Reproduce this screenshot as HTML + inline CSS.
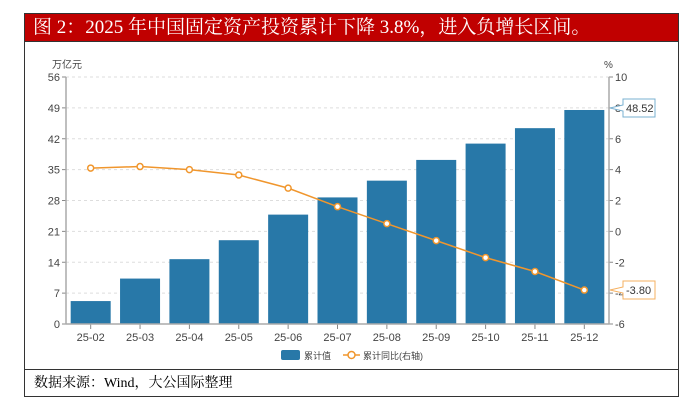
<!DOCTYPE html>
<html><head><meta charset="utf-8"><style>
body{margin:0;width:683px;height:414px;background:#fff;overflow:hidden;font-family:"Liberation Sans","Noto Sans CJK SC",sans-serif}
#frame{position:absolute;left:24px;top:13px;width:655px;height:384px;border:1px solid #333;box-sizing:border-box}
#title{position:absolute;left:0;top:0;width:100%;height:28px;background:#c00000;color:#fff;font-family:"Liberation Serif","Noto Serif CJK SC",serif;font-size:19px;line-height:28px;padding-left:8px;box-sizing:border-box;border-bottom:1px solid #333}
#src{position:absolute;left:0;top:355px;width:100%;height:28px;border-top:1px solid #333;font-family:"Liberation Serif","Noto Serif CJK SC",serif;font-size:14px;line-height:28px;padding-left:9px;box-sizing:border-box}
svg{position:absolute;left:0;top:0}
</style></head><body>
<div id="frame">
<div id="title">图 2：2025 年中国固定资产投资累计下降 3.8%，进入负增长区间。</div>
<div id="src">数据来源：Wind，大公国际整理</div>
</div>
<svg id="chart" width="683" height="414" font-family="Liberation Sans, Noto Sans CJK SC, sans-serif"></svg>
<script>
const categories=["25-02","25-03","25-04","25-05","25-06","25-07","25-08","25-09","25-10","25-11","25-12"];
const cumValues=[5.2,10.3,14.7,19.0,24.8,28.7,32.5,37.2,40.9,44.4,48.52];
const yoyValues=[4.1,4.2,4.0,3.65,2.8,1.6,0.5,-0.6,-1.7,-2.6,-3.8];
const leftTicks=[0,7,14,21,28,35,42,49,56];
const rightTicks=[-6,-4,-2,0,2,4,6,8,10];
const NS="http://www.w3.org/2000/svg";
const svg=document.getElementById('chart');
const X0=66,X1=609,Y0=324,Y1=77;
const band=(X1-X0)/categories.length;
const xC=i=>X0+band*(i+0.5);
const yL=v=>Y0-(v-0)/(56-0)*(Y0-Y1);
const yR=v=>Y0-(v+6)/16*(Y0-Y1);
function mk(t,a,p){const e=document.createElementNS(NS,t);for(const k in a)e.setAttribute(k,a[k]);(p||svg).appendChild(e);return e;}
leftTicks.forEach(v=>{
 const y=yL(v);
 if(v>0){const g=mk('line',{x1:X0,x2:X1,y1:y,y2:y,stroke:'#ddd','stroke-dasharray':'3,3'});
 
 }
 mk('line',{x1:X0-4,x2:X0,y1:y,y2:y,stroke:'#888'});
 const t=mk('text',{x:X0-6,y:y+4,'text-anchor':'end','font-size':11,fill:'#444'});t.textContent=v;
 
 
});
rightTicks.forEach(v=>{
 const y=yR(v);
 mk('line',{x1:X1,x2:X1+4,y1:y,y2:y,stroke:'#888'});
 const t=mk('text',{x:X1+6,y:y+4,'font-size':11,fill:'#444'});t.textContent=v;
 
 
});
let u=mk('text',{x:52,y:68,'font-size':10,fill:'#444'});u.textContent='万亿元';


u=mk('text',{x:604,y:68,'font-size':10,fill:'#444'});u.textContent='%';


cumValues.forEach((v,i)=>{
 const b=mk('rect',{x:xC(i)-20,y:yL(v),width:40,height:Y0-yL(v),fill:'#2878a8'});
 
 
 mk('line',{x1:xC(i),x2:xC(i),y1:Y0,y2:Y0+5,stroke:'#888'});
 const t=mk('text',{x:xC(i),y:Y0+17,'text-anchor':'middle','font-size':11,fill:'#444'});t.textContent=categories[i];
 
 
});
mk('line',{x1:X0,x2:X0,y1:Y1,y2:Y0,stroke:'#aaa','stroke-width':1.5});
mk('line',{x1:X1,x2:X1,y1:Y1,y2:Y0,stroke:'#aaa','stroke-width':1.5});
mk('line',{x1:X0,x2:X1,y1:Y0,y2:Y0,stroke:'#aaa','stroke-width':1.5});
const pl=mk('polyline',{points:yoyValues.map((v,i)=>xC(i)+','+yR(v)).join(' '),fill:'none',stroke:'#f0962d','stroke-width':1.5});


yoyValues.forEach((v,i)=>{
 const c=mk('circle',{cx:xC(i),cy:yR(v),r:3,fill:'#fff',stroke:'#f0962d','stroke-width':1.5});
 
 
});
function callout(y,txt,col,name){
 const g=mk('g',{});
 
 
 mk('path',{d:`M${X1+1},${y} L${X1+14},${y-3} L${X1+14},${y-9} L${X1+46},${y-9} L${X1+46},${y+9} L${X1+14},${y+9} L${X1+14},${y+3} Z`,fill:'#fff',stroke:col},g);
 const t=mk('text',{x:X1+17,y:y+4,'font-size':11,fill:'#333'},g);t.textContent=txt;
}
callout(yL(cumValues[10])-2,cumValues[10].toFixed(2),'#7ab0d0','last-bar-callout');
callout(yR(yoyValues[10]),yoyValues[10].toFixed(2),'#f5b060','last-point-callout');
const lg=mk('g',{});


mk('rect',{x:281,y:350,width:19,height:10,rx:2,fill:'#2878a8'},lg);
let lt=mk('text',{x:304,y:359,'font-size':9,fill:'#444'},lg);lt.textContent='累计值';
mk('line',{x1:343,x2:360,y1:355,y2:355,stroke:'#f0962d','stroke-width':1.5},lg);
mk('circle',{cx:351.5,cy:355,r:3.5,fill:'#fff',stroke:'#f0962d','stroke-width':1.5},lg);
lt=mk('text',{x:363,y:359,'font-size':9,fill:'#444'},lg);lt.textContent='累计同比(右轴)';
</script>
</body></html>
